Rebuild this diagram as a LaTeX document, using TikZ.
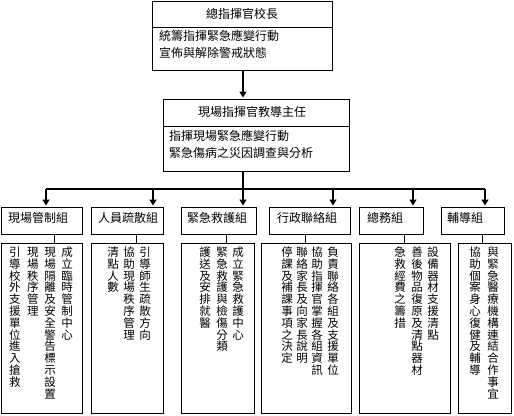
\documentclass[tikz,border=0pt]{standalone}
\usepackage{fontspec}
\setmainfont{Noto Sans CJK TC}
\usetikzlibrary{arrows.meta}
\newcommand\cjkvert[1]{\vbox{\offinterlineskip\cjkvertaux#1\relax}}
\def\cjkvertaux#1{\ifx\relax#1\else\hbox to 12pt{\hss\vrule height 10.2pt depth 1.6pt width 0pt #1\hss}\expandafter\cjkvertaux\fi}
\begin{document}
\begin{tikzpicture}[x=1pt,y=-1pt,
  box/.style={draw, line width=1pt, inner sep=0, anchor=north west},
  lbl/.style={inner sep=0, anchor=west, font=\fontsize{12}{12}\selectfont},
  vlbl/.style={inner sep=0, anchor=north, font=\fontsize{11.5}{11.8}\selectfont},
  busline/.style={line width=2.2pt},
  arr/.style={line width=2.2pt, -{Triangle[width=7pt,length=6pt]}, shorten >=1.5pt},
  link/.style={line width=1pt}]
\useasboundingbox (0,0) rectangle (514,415);
% top boxes
\node[box, minimum width=180, minimum height=26] (ttl) at (152,1) {};
\node[lbl, anchor=center] (ttltxt) at (242,13.5) {總指揮官校長};
\node[box, minimum width=180, minimum height=43] (tbody) at (152,27) {};
\node[lbl] (tb1) at (159,36) {統籌指揮緊急應變行動};
\node[lbl] (tb2) at (159,53) {宣佈與解除警戒狀態};
\node[box, minimum width=186, minimum height=27] (mttl) at (163,99) {};
\node[lbl, anchor=center] (mttltxt) at (252,111.5) {現場指揮官教導主任};
\node[box, minimum width=186, minimum height=45] (mbody) at (163,126) {};
\node[lbl] (mb1) at (169,135.5) {指揮現場緊急應變行動};
\node[lbl] (mb2) at (169,152.5) {緊急傷病之災因調查與分析};
% group boxes
\node[box, minimum width=81, minimum height=27] (g1) at (1,207) {};
\node[box, minimum width=72, minimum height=27] (g2) at (91,207) {};
\node[box, minimum width=75, minimum height=27] (g3) at (181,207) {};
\node[box, minimum width=81, minimum height=27] (g4) at (269,207) {};
\node[box, minimum width=64, minimum height=27] (g5) at (359,207) {};
\node[box, minimum width=63, minimum height=27] (g6) at (441,207) {};
\node[lbl] (g1t) at (8,218) {現場管制組};
\node[lbl] (g2t) at (98,218) {人員疏散組};
\node[lbl] (g3t) at (187,218) {緊急救護組};
\node[lbl] (g4t) at (277,218) {行政聯絡組};
\node[lbl] (g5t) at (367,218) {總務組};
\node[lbl] (g6t) at (447,218) {輔導組};
% detail boxes
\node[box, minimum width=81, minimum height=170] (d1) at (1,243) {};
\node[box, minimum width=72, minimum height=170] (d2) at (91,243) {};
\node[box, minimum width=73, minimum height=170] (d3) at (181,243) {};
\node[box, minimum width=90, minimum height=170] (d4) at (261,243) {};
\node[box, minimum width=91, minimum height=170] (d5) at (359,243) {};
\node[box, minimum width=53, minimum height=170] (d6) at (458,243) {};
% vertical texts
\node[vlbl] (c11) at (67,246) {\cjkvert{成立臨時管制中心}};
\node[vlbl] (c12) at (50,246) {\cjkvert{現場隔離及安全警告標示設置}};
\node[vlbl] (c13) at (33,246) {\cjkvert{現場秩序管理}};
\node[vlbl] (c14) at (15,246) {\cjkvert{引導校外支援單位進入搶救}};
\node[vlbl] (c21) at (145,246) {\cjkvert{引導師生疏散方向}};
\node[vlbl] (c22) at (129,246) {\cjkvert{協助現場秩序管理}};
\node[vlbl] (c23) at (113,246) {\cjkvert{清點人數}};
\node[vlbl] (c31) at (238,246) {\cjkvert{成立緊急救護中心}};
\node[vlbl] (c32) at (222,246) {\cjkvert{緊急救護與檢傷分類}};
\node[vlbl] (c33) at (205,246) {\cjkvert{護送及安排就醫}};
\node[vlbl] (c41) at (333,246) {\cjkvert{負責聯絡各組及支援單位}};
\node[vlbl] (c42) at (317,246) {\cjkvert{協助指揮官掌握各組資訊}};
\node[vlbl] (c43) at (302,246) {\cjkvert{聯絡家長及向家長說明}};
\node[vlbl] (c44) at (287,246) {\cjkvert{停課及補課事項之決定}};
\node[vlbl] (c51) at (433,246) {\cjkvert{設備器材支援清點}};
\node[vlbl] (c52) at (417,246) {\cjkvert{善後物品復原及清點器材}};
\node[vlbl] (c53) at (400,246) {\cjkvert{急救經費之籌措}};
\node[vlbl] (c61) at (493,246) {\cjkvert{與緊急醫療機構連結合作事宜}};
\node[vlbl] (c62) at (475,246) {\cjkvert{協助個案身心復健及輔導}};
% connector coordinates
\coordinate (bus) at (243,189);
\coordinate (a1) at (46,0);
\coordinate (a2) at (153,0);
\coordinate (a3) at (243,0);
\coordinate (a4) at (333,0);
\coordinate (a5) at (413,0);
\coordinate (a6) at (485,0);
\coordinate (l1) at (54,0);
\coordinate (l2) at (136,0);
\coordinate (l3) at (226,0);
\coordinate (l4) at (305,0);
\coordinate (l5) at (404,0);
\coordinate (l6) at (482,0);
% connectors
\draw[arr] (tbody.south -| a3) -- (mttl.north -| a3);
\draw[busline] (mbody.south -| a3) -- (bus);
\draw[busline] (a1 |- bus) -- (a6 |- bus);
\foreach \i in {1,...,6}{
  \draw[arr] (a\i |- bus) -- (g\i.north -| a\i);
  \draw[link] (g\i.south -| l\i) -- (d\i.north -| l\i);
}
\end{tikzpicture}
\end{document}
